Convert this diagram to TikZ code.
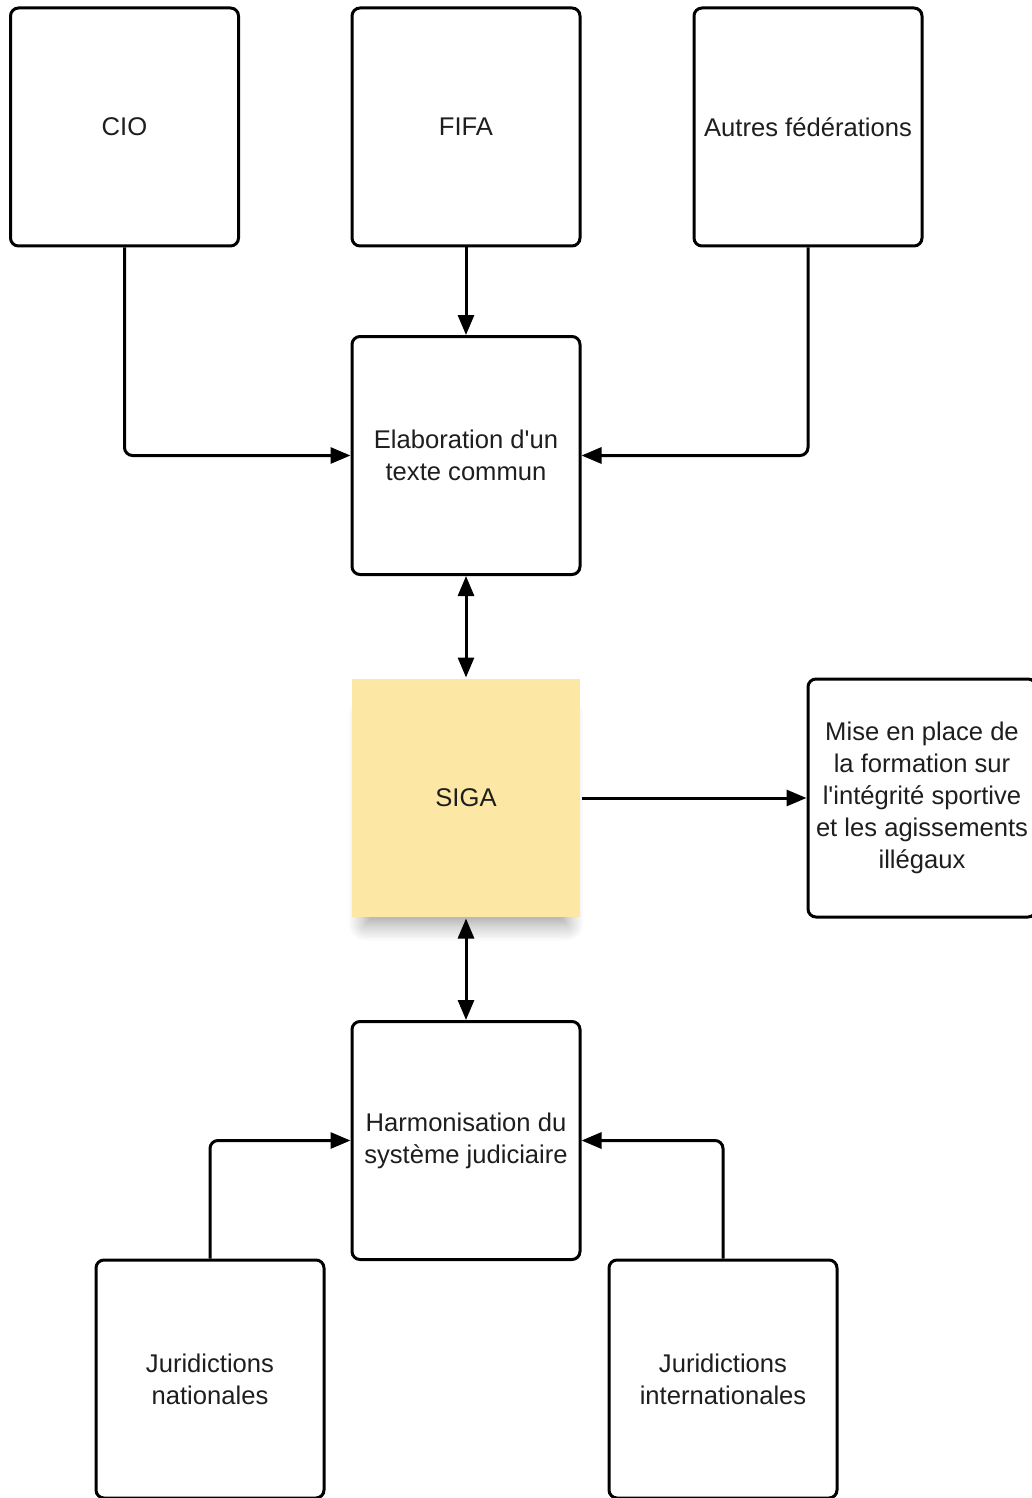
\documentclass[tikz,border=0pt]{standalone}
\usepackage{fontspec}
\setmainfont{Liberation Sans}
\usetikzlibrary{arrows.meta,shadows.blur}
\definecolor{sigayellow}{RGB}{252,232,164}
\definecolor{txt}{RGB}{30,30,30}
\begin{document}
\begin{tikzpicture}[x=0.5pt,y=-0.5pt,
  box/.style={draw=black,line width=1.5pt,rounded corners=4pt,fill=white,
    minimum width=114pt,minimum height=119pt,inner sep=0pt,align=center,
    font=\fontsize{12.8}{16}\selectfont,text=txt},
  sigabox/.style={box,draw=none,rounded corners=0pt,fill=sigayellow,
    blur shadow={shadow xshift=0pt,shadow yshift=-12pt,shadow scale=0.88,shadow blur radius=10pt,shadow blur steps=12,shadow opacity=40}},
  conn/.style={line width=1.5pt,rounded corners=4pt,-{Triangle[length=10pt,width=8pt]}},
  dconn/.style={line width=1.5pt,{Triangle[length=10pt,width=8pt]}-{Triangle[length=10pt,width=8pt]}}]
\useasboundingbox (0,0) rectangle (1032,1498);
\node[box] (cio) at (124.5,127) {CIO};
\node[box] (fifa) at (466,127) {FIFA};
\node[box] (autres) at (808,127) {Autres fédérations};
\node[box] (elab) at (466,455.5) {Elaboration d\textquotesingle un\\texte commun};
\node[sigabox] (siga) at (466,798) {SIGA};
\node[box] (mise) at (922,798) {Mise en place de\\la formation sur\\l\textquotesingle intégrité sportive\\et les agissements\\illégaux};
\node[box] (harm) at (466,1140.5) {Harmonisation du\\système judiciaire};
\node[box] (jn) at (210,1379) {Juridictions\\nationales};
\node[box] (ji) at (723,1379) {Juridictions\\internationales};
\draw[conn] (cio.south) |- (elab.west);
\draw[conn] (fifa.south) -- (elab.north);
\draw[conn] (autres.south) |- (elab.east);
\draw[dconn] (elab.south) -- (siga.north);
\draw[conn] (siga.east) -- (mise.west);
\draw[dconn] (siga.south) -- (harm.north);
\draw[conn] (jn.north) |- (harm.west);
\draw[conn] (ji.north) |- (harm.east);
\end{tikzpicture}
\end{document}
